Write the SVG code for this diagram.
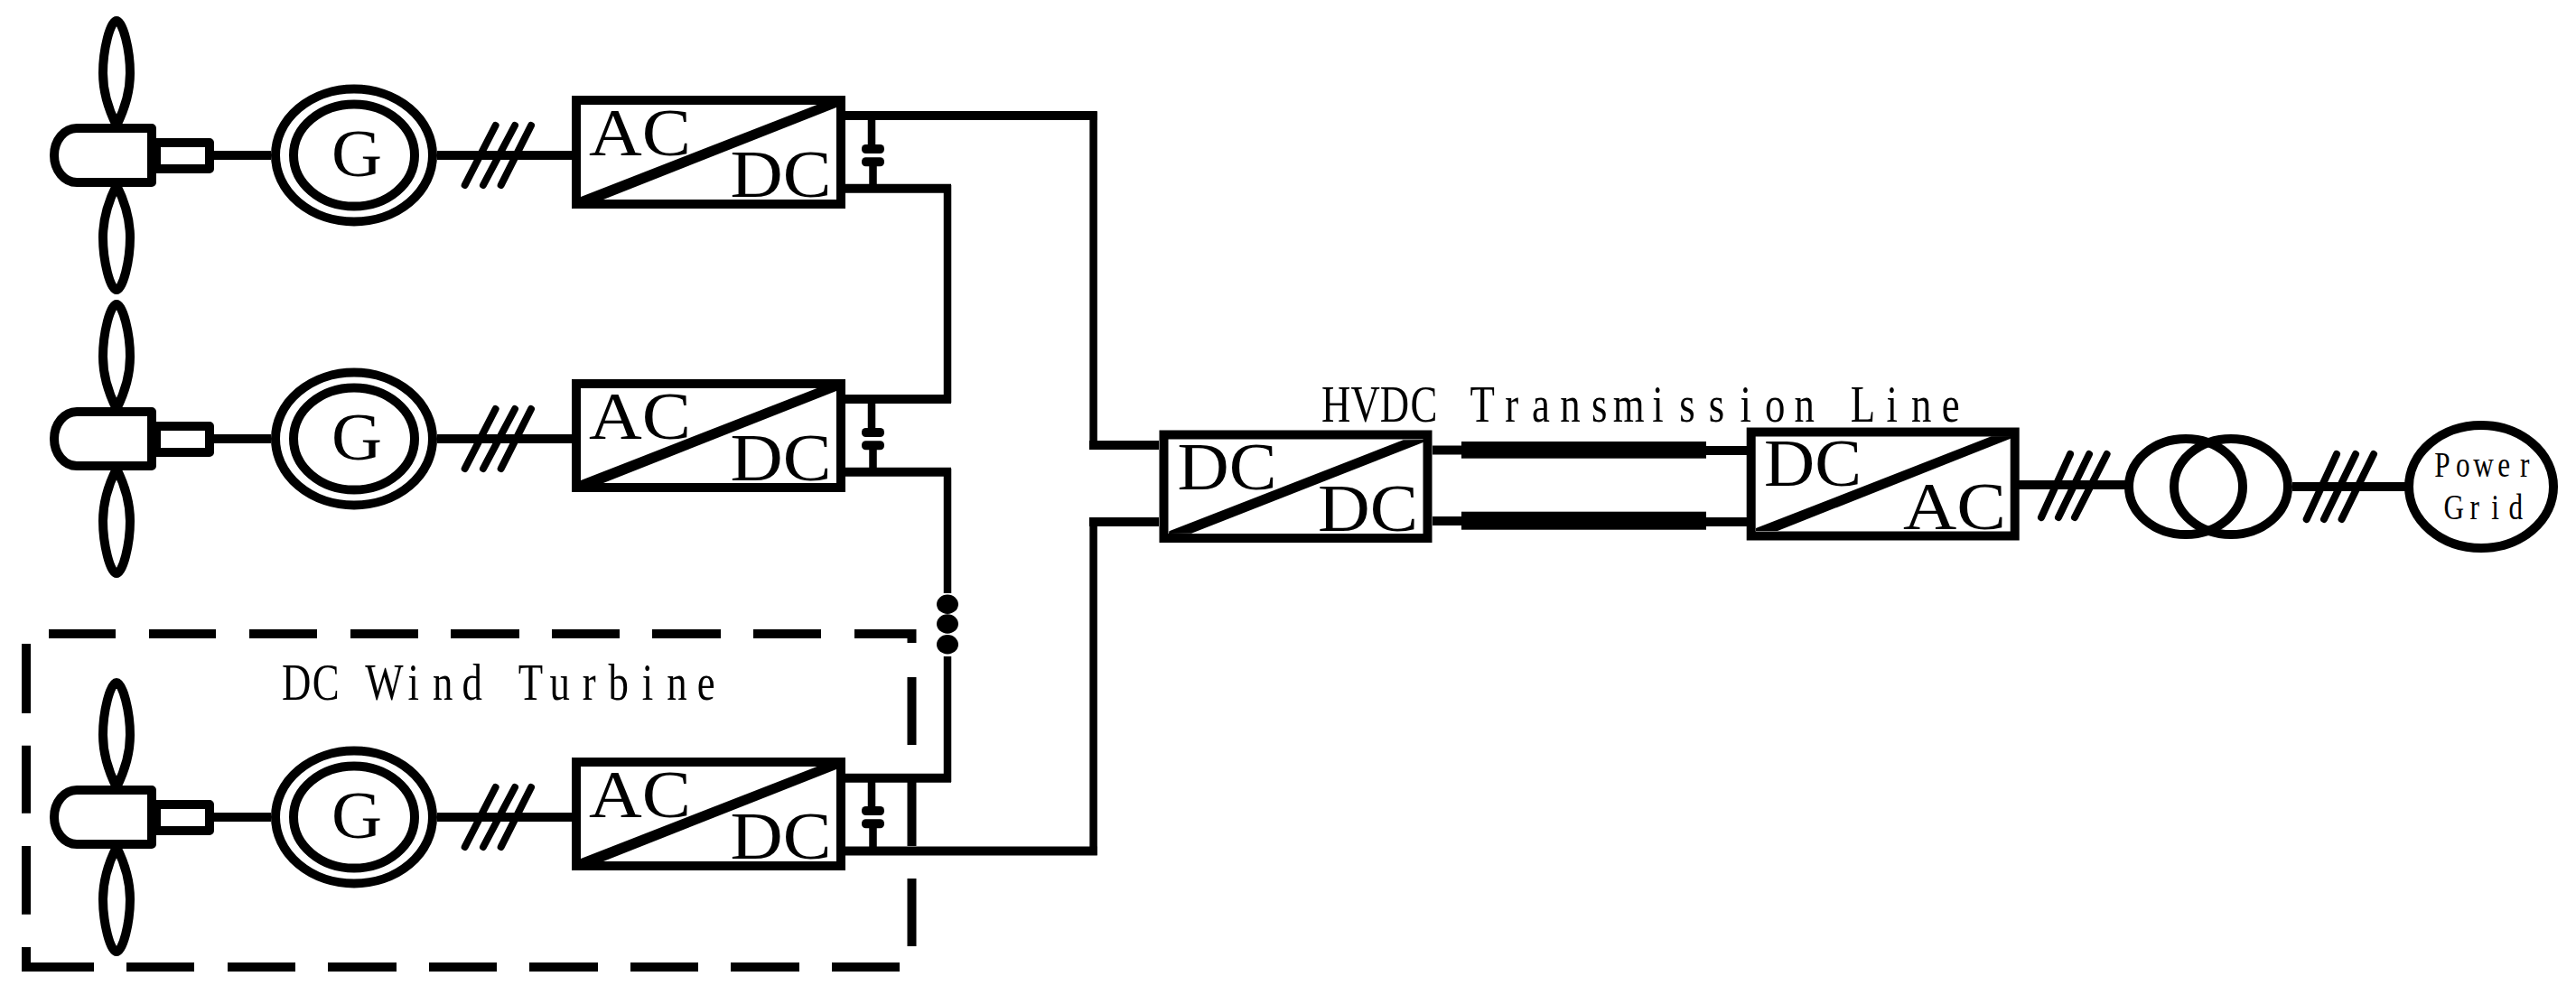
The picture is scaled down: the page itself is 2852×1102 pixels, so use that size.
<svg xmlns="http://www.w3.org/2000/svg" xmlns:xlink="http://www.w3.org/1999/xlink" width="2852" height="1102" viewBox="0 0 2852 1102">
<style>
.k{fill:none;stroke:#000;stroke-width:10}
.v{fill:none;stroke:#000;stroke-width:8.5}
.w{fill:#fff;stroke:#000;stroke-width:10;stroke-linejoin:round}
.h{fill:none;stroke:#000;stroke-width:8;stroke-linecap:round}
.f{fill:#000;stroke:none}
.big{font-family:"Liberation Serif","Times New Roman",serif;font-size:73px;fill:#000}
.narrow{font-family:"Liberation Serif","Times New Roman",serif;font-size:56px;fill:#000;text-anchor:middle}
.small{font-family:"Liberation Serif","Times New Roman",serif;font-size:39px;fill:#000;text-anchor:middle}
</style>
<defs>
<g id="turbine">
<path class="k" d="M129,23C122,23 114,55 114,81C114,105 122,125 129,139C136,125 144,105 144,81C144,55 136,23 129,23Z"/>
<path class="k" d="M129,321C122,321 114,289 114,263C114,239 122,219 129,205C136,219 144,239 144,263C144,289 136,321 129,321Z"/>
<path class="w" d="M168,142H85A25,30 0 0 0 85,202H168Z"/>
<rect class="w" x="173" y="158" width="59" height="29" stroke-width="9"/>
</g>
<g id="generator">
<ellipse class="k" cx="392" cy="172" rx="87" ry="73.5"/>
<ellipse class="k" cx="392" cy="172" rx="67" ry="56.5"/>
<text class="big" x="367" y="195" textLength="56" lengthAdjust="spacingAndGlyphs">G</text>
</g>
<g id="converter">
<rect class="k" x="638" y="111" width="293" height="115"/>
<polygon class="f" points="642.4,218.3 904.5,116 931,116 926,119 668,221 642,221"/>
<text class="big" x="652" y="171.7" textLength="113" lengthAdjust="spacingAndGlyphs">AC</text>
<text class="big" x="808.5" y="217.7" textLength="112" lengthAdjust="spacingAndGlyphs">DC</text>
</g>
<g id="cap">
<path class="v" d="M965,128V162"/>
<path class="v" d="M966.5,182V209"/>
<rect class="f" x="954" y="160" width="25" height="10" rx="4.5"/>
<rect class="f" x="954" y="174.3" width="25" height="10" rx="4.5"/>
</g>
<g id="hash">
<path class="h" d="M514.7,205L548.6,139M535,205L570,139M554.7,205L588,139"/>
</g>
</defs>
<rect width="2852" height="1102" fill="#fff"/>
<g id="connectors">
<path class="k" d="M236,172H300M484,172H634"/>
<path class="k" d="M236,486H300M484,486H634"/>
<path class="k" d="M236,905H300M484,905H634"/>
<path class="k" d="M936,128H1214.8M1206,493H1283"/>
<path class="v" d="M1210.6,124V497"/>
<path class="k" d="M936,208.7H1053M1053,442H936"/>
<path class="v" d="M1049,205V446"/>
<path class="k" d="M936,522.7H1053"/>
<path class="v" d="M1049,519V657"/>
<path class="v" d="M1049,727V866"/>
<path class="k" d="M1053,861.7H936"/>
<path class="k" d="M936,942.5H1214.8M1206,578H1283"/>
<path class="v" d="M1210.6,574V947"/>
<path class="k" d="M1586,498.5H1618M1889,499H1934"/>
<path class="k" d="M1586,577H1618M1889,578H1934"/>
<rect id="line-a" class="f" x="1618" y="489" width="271" height="18.7"/>
<rect id="line-b" class="f" x="1618" y="566.7" width="271" height="20"/>
<path class="k" d="M2235,537H2353"/>
<path class="k" d="M2538,539H2664"/>
</g>
<g id="turbine-1"><use xlink:href="#turbine"/></g>
<g id="generator-1"><use xlink:href="#generator"/></g>
<g id="hash-1"><use xlink:href="#hash"/></g>
<g id="converter-1"><use xlink:href="#converter"/><use xlink:href="#cap"/></g>
<g id="turbine-2"><use xlink:href="#turbine" y="314"/></g>
<g id="generator-2"><use xlink:href="#generator" y="314"/></g>
<g id="hash-2"><use xlink:href="#hash" y="314"/></g>
<g id="converter-2"><use xlink:href="#converter" y="314"/><use xlink:href="#cap" y="314"/></g>
<g id="turbine-3"><use xlink:href="#turbine" y="733"/></g>
<g id="generator-3"><use xlink:href="#generator" y="733"/></g>
<g id="hash-3"><use xlink:href="#hash" y="733"/></g>
<g id="converter-3"><use xlink:href="#converter" y="733"/><use xlink:href="#cap" y="733"/></g>
<g id="ellipsis">
<ellipse class="f" cx="1049" cy="669.3" rx="12" ry="10.7"/>
<ellipse class="f" cx="1049" cy="691" rx="12" ry="10.7"/>
<ellipse class="f" cx="1049" cy="713.7" rx="12" ry="10.7"/>
</g>
<g id="dc-wind-turbine">
<path class="k" d="M54,702H128M165,702H239M276,702H351M388,702H463M499,702H575M611,702H686M722,702H798M834,702H909M946,702H1009.5V712M1009.5,750V825M1009.5,862V937M1009.5,973V1048M996,1071H921M885,1071H809M773,1071H698M662,1071H586M550,1071H475M439,1071H363M327,1071H252M215,1071H140M104,1071H29V1049M29,1012.7V937M29,900.7V825.7M29,790V713"/>
<text class="narrow" transform="translate(312 775) scale(.8 1)" x="20.25 60.75 101.25 141.75 182.25 222.75 263.25 303.75 344.25 384.75 425.25 465.75 506.25 546.75 587.25">DC Wind Turbine</text>
</g>
<g id="dcdc">
<rect class="k" x="1288.5" y="481.5" width="292" height="114.5" stroke-width="11"/>
<polygon class="f" points="1294.4,588.3 1553.6,487.3 1580,487 1575.5,490 1319,590.7 1294,591"/>
<text class="big" x="1303.6" y="541.7" textLength="110" lengthAdjust="spacingAndGlyphs">DC</text>
<text class="big" x="1459" y="588" textLength="111" lengthAdjust="spacingAndGlyphs">DC</text>
</g>
<text id="hvdc-label" class="narrow" transform="translate(1463 466.7) scale(.8 1)" x="20.25 60.75 101.25 141.75 182.25 222.75 263.25 303.75 344.25 384.75 425.25 465.75 506.25 546.75 587.25 627.75 668.25 708.75 749.25 789.75 830.25 870.75">HVDC Transmission Line</text>
<g id="dcac">
<rect class="k" x="1938.7" y="478.5" width="292" height="115" stroke-width="10.5"/>
<polygon class="f" points="1944,585 2204.7,483.3 2230,483 2225.4,486 1968,588 1944,588"/>
<text class="big" x="1953" y="538" textLength="108" lengthAdjust="spacingAndGlyphs">DC</text>
<text class="big" x="2107" y="585.7" textLength="114" lengthAdjust="spacingAndGlyphs">AC</text>
</g>
<path id="hash-4" class="h" d="M2260,573L2292,503M2279,573L2313,503M2297,573L2332.6,503"/>
<g id="transformer">
<ellipse class="k" cx="2420" cy="539" rx="63" ry="53"/>
<ellipse class="k" cx="2470" cy="539" rx="63" ry="53"/>
</g>
<path id="hash-5" class="h" d="M2553.7,575L2587,503M2573,575L2608,503M2592.6,575L2628,503"/>
<g id="power-grid">
<ellipse class="k" cx="2747" cy="539" rx="80" ry="68"/>
<text class="small" transform="translate(2692.5 527.7) scale(.8 1)" x="14.25 42.75 71.25 99.75 128.25">Power</text>
<text class="small" transform="translate(2705.5 575) scale(.8 1)" x="14.25 42.75 71.25 99.75">Grid</text>
</g>
</svg>
